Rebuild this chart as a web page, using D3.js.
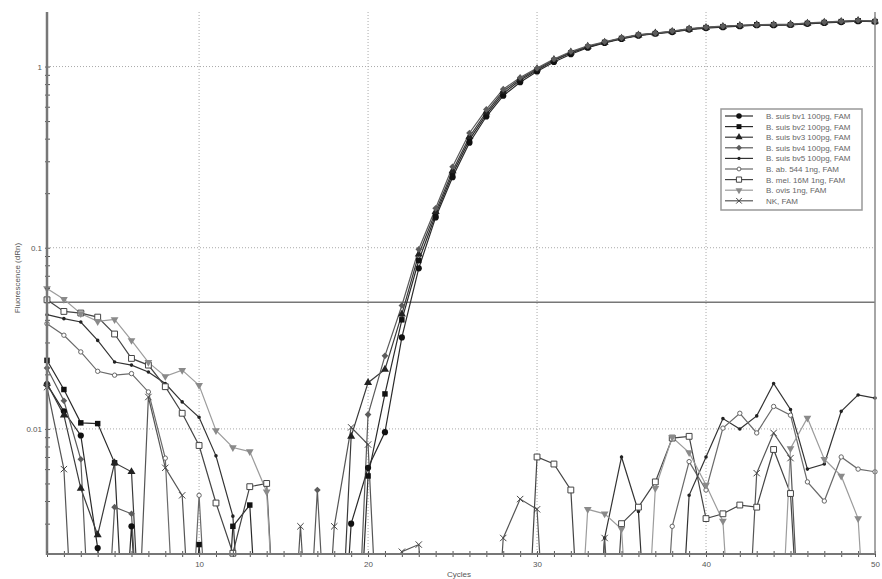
<!DOCTYPE html>
<html>
<head>
<meta charset="utf-8">
<title>Amplification plot</title>
<script src="https://cdnjs.cloudflare.com/ajax/libs/d3/7.8.5/d3.min.js"></script>
<style>
  body { margin: 0; background: #fff; }
  svg { display: block; font-family: "Liberation Sans", Arial, sans-serif; }
</style>
</head>
<body>
<div id="chart"></div>
<script>
// cycle numbers on the x axis
var cycles = [1, 2, 3, 4, 5, 6, 7, 8, 9, 10, 11, 12, 13, 14, 15, 16, 17, 18, 19, 20,
  21, 22, 23, 24, 25, 26, 27, 28, 29, 30, 31, 32, 33, 34, 35, 36, 37, 38, 39, 40,
  41, 42, 43, 44, 45, 46, 47, 48, 49, 50];

// readings below the visible range of the plot (line runs off the bottom)
var LO = 0.0001;

var bv1 = [0.0176, 0.0125, 0.0092, 0.0022, LO, 0.0029, LO, LO, LO, LO,
  LO, LO, LO, LO, LO, LO, LO, LO, 0.0030, 0.0061,
  0.0096, 0.032, 0.077, 0.147, 0.245, 0.38, 0.53, 0.69, 0.82, 0.94,
  1.06, 1.17, 1.27, 1.35, 1.42, 1.48, 1.52, 1.55, 1.60, 1.63,
  1.65, 1.67, 1.69, 1.69, 1.70, 1.72, 1.74, 1.76, 1.78, 1.77];
var bv2 = [0.0239, 0.0165, 0.0108, 0.0107, 0.0065, LO, LO, LO, LO, 0.0023,
  LO, 0.0029, 0.0038, LO, LO, LO, LO, LO, LO, 0.0055,
  0.0156, 0.040, 0.085, 0.152, 0.255, 0.395, 0.545, 0.71, 0.84, 0.955,
  1.08, 1.19, 1.28, 1.36, 1.43, 1.49, 1.52, 1.56, 1.61, 1.64,
  1.66, 1.68, 1.70, 1.70, 1.70, 1.73, 1.75, 1.77, 1.79, 1.77];
var bv3 = [0.0178, 0.0119, 0.0047, 0.0026, 0.0065, 0.0058, LO, LO, LO, LO,
  LO, LO, LO, LO, LO, LO, LO, LO, 0.0091, 0.0180,
  0.0213, 0.043, 0.092, 0.158, 0.265, 0.41, 0.56, 0.73, 0.855, 0.97,
  1.09, 1.20, 1.29, 1.36, 1.43, 1.49, 1.53, 1.56, 1.61, 1.64,
  1.66, 1.68, 1.70, 1.70, 1.71, 1.73, 1.75, 1.77, 1.79, 1.78];
var bv4 = [0.0217, 0.0143, 0.0068, LO, 0.0037, 0.0034, LO, LO, LO, LO,
  LO, LO, LO, LO, LO, LO, 0.0046, LO, LO, 0.0120,
  0.0253, 0.048, 0.098, 0.165, 0.28, 0.43, 0.58, 0.75, 0.87, 0.98,
  1.10, 1.21, 1.30, 1.37, 1.44, 1.50, 1.53, 1.57, 1.62, 1.65,
  1.67, 1.69, 1.70, 1.71, 1.71, 1.74, 1.76, 1.78, 1.80, 1.78];
var bv5 = [0.0427, 0.0406, 0.0389, 0.0308, 0.0234, 0.0225, 0.0206, 0.0178, 0.0141, 0.0116,
  0.0071, 0.0033, LO, LO, LO, LO, LO, LO, LO, LO,
  LO, LO, LO, LO, LO, LO, LO, LO, LO, LO,
  LO, LO, LO, 0.0025, 0.0070, 0.0035, LO, LO, 0.0043, 0.0070,
  0.0114, 0.0100, 0.0118, 0.0178, 0.0128, 0.0060, 0.0064, 0.0125, 0.0154, 0.0148];
var ab544 = [0.0381, 0.0329, 0.0266, 0.0208, 0.0198, 0.0202, 0.0160, 0.0069, LO, 0.0043,
  LO, LO, LO, LO, LO, LO, LO, LO, LO, LO,
  LO, LO, LO, LO, LO, LO, LO, LO, LO, LO,
  LO, LO, LO, LO, LO, LO, LO, 0.0029, 0.0066, 0.0046,
  0.0101, 0.0122, 0.0095, 0.0133, 0.0119, 0.0051, 0.0040, 0.0070, 0.0060, 0.0058];
var mel16M = [0.0516, 0.0445, 0.0436, 0.0414, 0.0334, 0.0245, 0.0225, 0.0171, 0.0122, 0.0081,
  0.0039, 0.00206, 0.0048, 0.0050, LO, LO, LO, LO, LO, LO,
  LO, LO, LO, LO, LO, LO, LO, LO, LO, 0.0070,
  0.0064, 0.0046, LO, LO, 0.0030, 0.0037, 0.0051, 0.0089, 0.0091, 0.0032,
  0.0034, 0.0038, 0.0037, 0.0077, 0.0044, LO, LO, LO, LO, LO];
var ovis = [0.0595, 0.0519, 0.0433, 0.0392, 0.0402, 0.0308, 0.0233, 0.0195, 0.0211, 0.0174,
  0.0098, 0.0079, 0.0075, 0.0045, LO, LO, LO, LO, LO, LO,
  LO, LO, LO, LO, LO, LO, LO, LO, LO, LO,
  LO, LO, 0.0036, 0.0034, 0.0028, LO, 0.0047, 0.0090, 0.0074, 0.0049,
  0.0031, LO, LO, LO, 0.0078, 0.0115, 0.0068, 0.0055, 0.0032, LO];
var nk = [0.0170, 0.0060, LO, LO, LO, LO, 0.0150, 0.0061, 0.0043, LO,
  LO, LO, LO, LO, LO, 0.0029, LO, 0.0029, 0.0102, 0.0082,
  LO, 0.0021, 0.0023, LO, LO, LO, LO, 0.0025, 0.0041, 0.0036,
  LO, LO, LO, 0.0025, LO, LO, LO, LO, LO, LO,
  LO, LO, 0.0057, 0.0095, 0.0069, LO, LO, LO, LO, LO];

var seriesNames = ['B. suis bv1 100pg, FAM', 'B. suis bv2 100pg, FAM', 'B. suis bv3 100pg, FAM',
  'B. suis bv4 100pg, FAM', 'B. suis bv5 100pg, FAM', 'B. ab. 544 1ng, FAM',
  'B. mel. 16M 1ng, FAM', 'B. ovis 1ng, FAM', 'NK, FAM'];
var seriesValues = [bv1, bv2, bv3, bv4, bv5, ab544, mel16M, ovis, nk];

var threshold = 0.05;
var xLabelTicks = [10, 20, 30, 40, 50];
var yLabelTicks = [0.01, 0.1, 1];
var yMinorTicks = [0.003, 0.004, 0.005, 0.006, 0.007, 0.008, 0.009,
  0.01, 0.02, 0.03, 0.04, 0.05, 0.06, 0.07, 0.08, 0.09,
  0.1, 0.2, 0.3, 0.4, 0.5, 0.6, 0.7, 0.8, 0.9, 1];

// Darstellung je Serie: Linienfarbe, Markerform, Füllung, Drehung
var crossX = d3.symbolTimes || d3.symbolX || d3.symbolCross;
var styles = [
  { line: '#2a2a2a', type: d3.symbolCircle,   size: 30, fill: '#111', stroke: 'none', rot: 0 },
  { line: '#2a2a2a', type: d3.symbolSquare,   size: 30, fill: '#111', stroke: 'none', rot: 0 },
  { line: '#3a3a3a', type: d3.symbolTriangle, size: 28, fill: '#222', stroke: 'none', rot: 0 },
  { line: '#5a5a5a', type: d3.symbolSquare,   size: 22, fill: '#5c5c5c', stroke: 'none', rot: 45 },
  { line: '#333',    type: d3.symbolCircle,   size: 10, fill: '#222', stroke: 'none', rot: 0 },
  { line: '#6a6a6a', type: d3.symbolCircle,   size: 15, fill: '#fff', stroke: '#666', rot: 0 },
  { line: '#454545', type: d3.symbolSquare,   size: 34, fill: '#fff', stroke: '#444', rot: 0 },
  { line: '#9c9c9c', type: d3.symbolTriangle, size: 26, fill: '#8a8a8a', stroke: 'none', rot: 180 },
  { line: '#555',    type: crossX,            size: 28, fill: 'none', stroke: '#444', rot: 0 }
];

var W = 882, H = 579;
var plotL = 47, plotR = 875, plotT = 12, plotB = 554;

var x = d3.scaleLinear().domain([1, 50]).range([plotL, plotR]);
var y = d3.scaleLog().domain([0.00204, 2.0]).range([plotB, plotT]);

var svg = d3.select('#chart').append('svg')
  .attr('width', W).attr('height', H);

svg.append('defs').append('clipPath').attr('id', 'plot')
  .append('rect')
  .attr('x', plotL).attr('y', plotT)
  .attr('width', plotR - plotL).attr('height', plotB - plotT);

// Gitterlinien (gepunktet)
svg.append('g').selectAll('line')
  .data(xLabelTicks.slice(0, -1))
  .join('line')
  .attr('x1', function (d) { return x(d); }).attr('x2', function (d) { return x(d); })
  .attr('y1', plotT).attr('y2', plotB)
  .attr('stroke', '#aaa').attr('stroke-width', 1).attr('stroke-dasharray', '1,2');
svg.append('g').selectAll('line')
  .data(yLabelTicks)
  .join('line')
  .attr('x1', plotL).attr('x2', plotR)
  .attr('y1', function (d) { return y(d); }).attr('y2', function (d) { return y(d); })
  .attr('stroke', '#aaa').attr('stroke-width', 1).attr('stroke-dasharray', '1,2');

// Schwellenwert
svg.append('line')
  .attr('x1', plotL).attr('x2', plotR)
  .attr('y1', y(threshold)).attr('y2', y(threshold))
  .attr('stroke', '#777').attr('stroke-width', 1.5);

// Kurven
var line = d3.line()
  .x(function (d, i) { return x(cycles[i]); })
  .y(function (d) { return y(d); });

var curves = svg.append('g').attr('clip-path', 'url(#plot)');
seriesValues.forEach(function (vals, k) {
  curves.append('path')
    .datum(vals)
    .attr('fill', 'none')
    .attr('stroke', styles[k].line)
    .attr('stroke-width', 1.2)
    .attr('d', line);
});

// Marker (nur im sichtbaren Bereich)
var yMin = y.domain()[0] * 0.999;
seriesValues.forEach(function (vals, k) {
  var st = styles[k];
  var sym = d3.symbol().type(st.type).size(st.size);
  var pts = vals.map(function (v, i) { return { c: cycles[i], v: v }; })
    .filter(function (p) { return p.v >= yMin; });
  svg.append('g').selectAll('path')
    .data(pts)
    .join('path')
    .attr('d', sym)
    .attr('transform', function (p) {
      return 'translate(' + x(p.c) + ',' + y(p.v) + ') rotate(' + st.rot + ')';
    })
    .attr('fill', st.fill)
    .attr('stroke', st.stroke)
    .attr('stroke-width', 1);
});

// y-Achse
var yAxis = d3.axisLeft(y)
  .tickValues(yMinorTicks)
  .tickSize(3)
  .tickFormat(function (d) {
    return yLabelTicks.some(function (t) { return Math.abs(t - d) < 1e-9; }) ? d3.format('~g')(d) : '';
  });
var gy = svg.append('g')
  .attr('transform', 'translate(' + plotL + ',0)')
  .call(yAxis);
gy.select('.domain').remove();
gy.selectAll('.tick line').attr('x1', -2).attr('x2', 3).attr('stroke', '#555');
gy.selectAll('.tick text').attr('x', -5).attr('fill', '#555').style('font-size', '8px');
svg.append('line')
  .attr('x1', plotL).attr('x2', plotL).attr('y1', plotT).attr('y2', plotB + 1)
  .attr('stroke', '#777').attr('stroke-width', 2.5);

// x-Achse
var xAxis = d3.axisBottom(x)
  .tickValues(cycles)
  .tickSize(3)
  .tickFormat(function (d) { return xLabelTicks.indexOf(d) >= 0 ? d : ''; });
var gx = svg.append('g')
  .attr('transform', 'translate(0,' + plotB + ')')
  .call(xAxis);
gx.select('.domain').remove();
gx.selectAll('.tick line').attr('y1', -3).attr('y2', 3).attr('stroke', '#555');
gx.selectAll('.tick text').attr('y', 7).attr('fill', '#555').style('font-size', '8px');
svg.append('line')
  .attr('x1', plotL - 1).attr('x2', plotR).attr('y1', plotB).attr('y2', plotB)
  .attr('stroke', '#777').attr('stroke-width', 2);

// rechter Rand
svg.append('line')
  .attr('x1', plotR).attr('x2', plotR).attr('y1', plotT).attr('y2', plotB)
  .attr('stroke', '#888').attr('stroke-width', 1.5);

// Achsentitel
svg.append('text')
  .attr('x', 459).attr('y', 576.5)
  .attr('text-anchor', 'middle').attr('fill', '#555').style('font-size', '8px')
  .text('Cycles');
svg.append('text')
  .attr('transform', 'translate(20,278) rotate(-90)')
  .attr('text-anchor', 'middle').attr('fill', '#555').style('font-size', '8px')
  .text('Fluorescence (dRn)');

// Legende
var lg = svg.append('g').attr('transform', 'translate(721,109)');
lg.append('rect')
  .attr('width', 141).attr('height', 101)
  .attr('fill', '#fff').attr('stroke', '#999').attr('stroke-width', 1.5);
seriesNames.forEach(function (name, k) {
  var st = styles[k];
  var ly = 7 + k * 10.6;
  lg.append('line')
    .attr('x1', 4).attr('x2', 32).attr('y1', ly).attr('y2', ly)
    .attr('stroke', st.line).attr('stroke-width', 1.2);
  lg.append('path')
    .attr('d', d3.symbol().type(st.type).size(st.size * 0.8)())
    .attr('transform', 'translate(18,' + ly + ') rotate(' + st.rot + ')')
    .attr('fill', st.fill).attr('stroke', st.stroke).attr('stroke-width', 1);
  lg.append('text')
    .attr('x', 45).attr('y', ly + 3)
    .attr('fill', '#666').style('font-size', '8px')
    .text(name);
});
</script>
</body>
</html>
